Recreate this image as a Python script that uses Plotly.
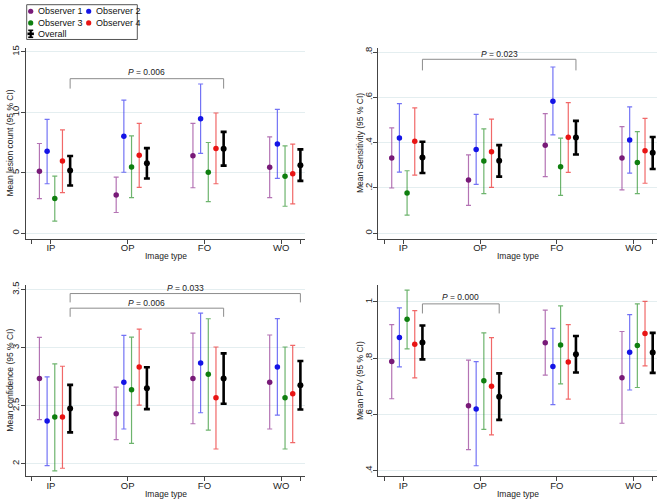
import plotly.graph_objects as go

# ---------------- data ----------------
categories = ["IP", "OP", "FO", "WO"]
series_names = ["Observer 1", "Observer 2", "Observer 3", "Observer 4", "Overall"]

# Mean lesion count (95% CI): rows = series, cols = categories
lesion_mean = [[5.14, 3.17, 6.42, 5.46], [6.78, 8.03, 9.48, 7.38], [2.87, 5.49, 5.05, 4.73],
               [5.98, 6.45, 7.02, 4.92], [5.19, 5.79, 6.99, 5.63]]
lesion_lo = [[2.87, 1.72, 3.77, 2.95], [4.10, 5.05, 6.61, 4.54], [1.01, 2.95, 2.62, 2.24],
             [3.36, 3.80, 4.10, 2.43], [3.96, 4.54, 5.60, 4.34]]
lesion_hi = [[7.43, 4.64, 9.10, 7.98], [9.43, 11.01, 12.35, 10.25], [4.73, 8.06, 7.51, 7.24],
             [8.55, 9.10, 9.95, 7.38], [6.39, 7.05, 8.39, 6.94]]

# Mean sensitivity
sens_mean = [[.332, .235, .389, .332], [.421, .370, .583, .412], [.178, .319, .294, .313],
             [.406, .360, .424, .364], [.335, .320, .423, .355]]
sens_lo = [[.200, .123, .250, .192], [.270, .216, .434, .266], [.080, .175, .167, .175],
           [.257, .203, .269, .221], [.266, .250, .348, .284]]
sens_hi = [[.465, .346, .528, .471], [.572, .525, .734, .558], [.276, .461, .420, .449],
           [.554, .504, .577, .507], [.404, .389, .496, .425]]

# Mean confidence
conf_mean = [[2.734, 2.431, 2.734, 2.703], [2.368, 2.703, 2.868, 2.834], [2.403, 2.637, 2.771, 2.568],
             [2.403, 2.834, 2.568, 2.603], [2.477, 2.651, 2.734, 2.677]]
conf_lo = [[2.380, 2.208, 2.345, 2.300], [1.985, 2.300, 2.440, 2.420], [1.939, 2.177, 2.291, 2.128],
           [1.962, 2.505, 2.128, 2.182], [2.271, 2.471, 2.517, 2.468]]
conf_hi = [[3.089, 2.660, 3.126, 3.109], [2.748, 3.106, 3.297, 3.251], [2.860, 3.091, 3.249, 3.006],
           [2.840, 3.160, 3.006, 3.020], [2.680, 2.831, 2.951, 2.886]]

# Mean PPV
ppv_mean = [[.788, .631, .855, .731], [.874, .620, .771, .821], [.938, .720, .847, .845],
            [.850, .700, .787, .888], [.856, .663, .814, .820]]
ppv_lo = [[.656, .475, .740, .569], [.769, .418, .635, .687], [.833, .547, .709, .696],
          [.730, .528, .655, .773], [.796, .581, .749, .748]]
ppv_hi = [[.919, .793, .971, .895], [.979, .788, .906, .955], [1.042, .890, .986, .993],
          [.969, .873, .919, 1.002], [.916, .746, .879, .890]]

# tick labels
lesion_ticks = [0, 5, 10, 15]
lesion_ticktext = ["0", "5", "10", "15"]
sens_ticks = [0, .2, .4, .6, .8]
sens_ticktext = ["0", ".2", ".4", ".6", ".8"]
conf_ticks = [2, 2.5, 3, 3.5]
conf_ticktext = ["2", "2.5", "3", "3.5"]
ppv_ticks = [.4, .6, .8, 1]
ppv_ticktext = [".4", ".6", ".8", "1"]

# p-value brackets: (from category, to category, p text)
lesion_pvals = [(0, 2, "0.006")]
sens_pvals = [(0, 2, "0.023")]
conf_pvals = [(0, 2, "0.006"), (0, 3, "0.033")]
ppv_pvals = [(0, 1, "0.000")]

# ---------------- styling ----------------
W, H = 663, 502
FONT = "Liberation Sans, Arial, Helvetica, sans-serif"
offsets = [-0.15, -0.05, 0.05, 0.15, 0.25]
marker_colors = ["#781a78", "#1414e6", "#0f7f0f", "#e81414", "#000000"]
bar_colors = ["rgba(140,40,140,0.65)", "rgba(40,40,240,0.65)", "rgba(30,140,30,0.65)",
              "rgba(235,40,40,0.7)", "#000000"]


def px2x(px):
    return px / W


def px2y(py):
    return 1 - py / H


panels = [
    dict(mean=lesion_mean, lo=lesion_lo, hi=lesion_hi, ticks=lesion_ticks, ticktext=lesion_ticktext,
         rng=[-0.46, 15.35], xd=(26, 305), yd=(45, 237.3), title="Mean lesion count (95 % CI)",
         pv=lesion_pvals, br=[(12.79, 11.97, 13.33)], ytx=10.3),
    dict(mean=sens_mean, lo=sens_lo, hi=sens_hi, ticks=sens_ticks, ticktext=sens_ticktext,
         rng=[-0.0246, 0.819], xd=(378.3, 657.3), yd=(45, 237.3), title="Mean Sensitivity (95 % CI)",
         pv=sens_pvals, br=[(0.768, 0.719, 0.79)], ytx=360.7),
    dict(mean=conf_mean, lo=conf_lo, hi=conf_hi, ticks=conf_ticks, ticktext=conf_ticktext,
         rng=[1.894, 3.543], xd=(26, 305), yd=(283.3, 476), title="Mean confidence (95 % CI)",
         pv=conf_pvals, br=[(3.340, 3.266, 3.386), (3.466, 3.39, 3.517)], ytx=10.3),
    dict(mean=ppv_mean, lo=ppv_lo, hi=ppv_hi, ticks=ppv_ticks, ticktext=ppv_ticktext,
         rng=[0.381, 1.0615], xd=(378.3, 657.3), yd=(283.3, 476), title="Mean PPV (95 % CI)",
         pv=ppv_pvals, br=[(0.993, 0.959, 1.016)], ytx=360.7),
]

fig = go.Figure()
shapes = []
annotations = []
layout = {}

for p_i, pnl in enumerate(panels):
    sfx = "" if p_i == 0 else str(p_i + 1)
    xa, ya = "x" + sfx, "y" + sfx
    for s_i, name in enumerate(series_names):
        xs = [k + 1 + offsets[s_i] for k in range(len(categories))]
        m = pnl["mean"][s_i]
        up = [h - v for h, v in zip(pnl["hi"][s_i], m)]
        dn = [v - l for v, l in zip(m, pnl["lo"][s_i])]
        overall = (name == "Overall")
        fig.add_trace(go.Scatter(
            x=xs, y=m, mode="markers", name=name, showlegend=False,
            xaxis=xa, yaxis=ya,
            marker=dict(color=marker_colors[s_i], size=6 if overall else 5.5, symbol="circle",
                        line=dict(width=0)),
            error_y=dict(type="data", symmetric=False, array=up, arrayminus=dn,
                         color=bar_colors[s_i], thickness=2.6 if overall else 1.2,
                         width=3 if overall else 2.5),
        ))
    x0, x1 = pnl["xd"]
    y0, y1 = pnl["yd"]
    layout["xaxis" + sfx] = dict(
        domain=[px2x(x0), px2x(x1)], anchor=ya, range=[0.675, 4.31],
        tickvals=[0.75, 1, 2, 3, 4, 4.25], ticktext=[""] + categories + [""],
        showline=True, linecolor="#444", linewidth=1, ticks="outside", ticklen=4, tickcolor="#444",
        ticklabelstandoff=-4,
        showgrid=False, zeroline=False, tickfont=dict(family=FONT, size=9.5, color="#222"),
    )
    layout["yaxis" + sfx] = dict(
        domain=[px2y(y1), px2y(y0)], anchor=xa, range=pnl["rng"],
        tickvals=pnl["ticks"], ticktext=pnl["ticktext"], tickangle=-90,
        showline=True, linecolor="#444", linewidth=1, ticks="outside", ticklen=4, tickcolor="#444",
        ticklabelstandoff=-2,
        showgrid=True, gridcolor="#e4eef0", gridwidth=1, zeroline=False,
        tickfont=dict(family=FONT, size=9.5, color="#222"),
    )
    # axis titles
    annotations.append(dict(text="Image type", xref="paper", yref="paper",
                            x=px2x((x0 + x1) / 2), y=px2y(y1 + 17.5), showarrow=False,
                            xanchor="center", yanchor="middle",
                            font=dict(family=FONT, size=8.5, color="#222")))
    annotations.append(dict(text=pnl["title"], xref="paper", yref="paper", textangle=-90,
                            x=px2x(pnl["ytx"]), y=px2y((y0 + y1) / 2), showarrow=False,
                            xanchor="center", yanchor="middle",
                            font=dict(family=FONT, size=8.5, color="#222")))
    # p-value brackets (from overall positions)
    for (c0, c1, ptxt), (yh, yd, yt) in zip(pnl["pv"], pnl["br"]):
        bx0 = c0 + 1 + offsets[-1]
        bx1 = c1 + 1 + offsets[-1]
        shapes.append(dict(type="path", xref=xa, yref=ya,
                           path=f"M {bx0} {yd} L {bx0} {yh} L {bx1} {yh} L {bx1} {yd}",
                           line=dict(color="#8c8c8c", width=1)))
        annotations.append(dict(text=f"<i>P</i> = {ptxt}", xref=xa, yref=ya,
                                x=(bx0 + bx1) / 2, y=yt, showarrow=False,
                                xanchor="center", yanchor="middle",
                                font=dict(family=FONT, size=8.5, color="#222")))

# ---------------- legend (drawn manually, box at top-left) ----------------
shapes.append(dict(type="rect", xref="paper", yref="paper",
                   x0=px2x(26.7), x1=px2x(137.3), y0=px2y(36.7), y1=px2y(1.7),
                   line=dict(color="#555", width=1), fillcolor="white"))
leg_pos = [(30.7, 8.3), (88.7, 8.3), (30.7, 20), (88.7, 20), (30.7, 31)]
for s_i, name in enumerate(series_names):
    mx, my = leg_pos[s_i]
    r = 2.6
    if name == "Overall":
        shapes.append(dict(type="line", xref="paper", yref="paper",
                           x0=px2x(mx), x1=px2x(mx), y0=px2y(my + 3.5), y1=px2y(my - 3.5),
                           line=dict(color="black", width=2.2)))
        for cy in (my - 3.5, my + 3.5):
            shapes.append(dict(type="line", xref="paper", yref="paper",
                               x0=px2x(mx - 2.5), x1=px2x(mx + 2.5), y0=px2y(cy), y1=px2y(cy),
                               line=dict(color="black", width=1.6)))
        shapes.append(dict(type="line", xref="paper", yref="paper",
                           x0=px2x(mx - 3.2), x1=px2x(mx + 3.2), y0=px2y(my), y1=px2y(my),
                           line=dict(color="black", width=2.6)))
    else:
        shapes.append(dict(type="circle", xref="paper", yref="paper",
                           x0=px2x(mx - r), x1=px2x(mx + r), y0=px2y(my + r), y1=px2y(my - r),
                           fillcolor=marker_colors[s_i], line=dict(width=0)))
    annotations.append(dict(text=name, xref="paper", yref="paper",
                            x=px2x(mx + 5.5), y=px2y(my), showarrow=False,
                            xanchor="left", yanchor="middle",
                            font=dict(family=FONT, size=9, color="#111")))

fig.update_layout(
    width=W, height=H, margin=dict(l=0, r=0, t=0, b=0),
    paper_bgcolor="white", plot_bgcolor="white", showlegend=False,
    shapes=shapes, annotations=annotations, **layout,
)

fig.write_html("out.html", config={"displayModeBar": False},
               post_script="document.body.style.margin='0';document.body.style.overflow='hidden';")
